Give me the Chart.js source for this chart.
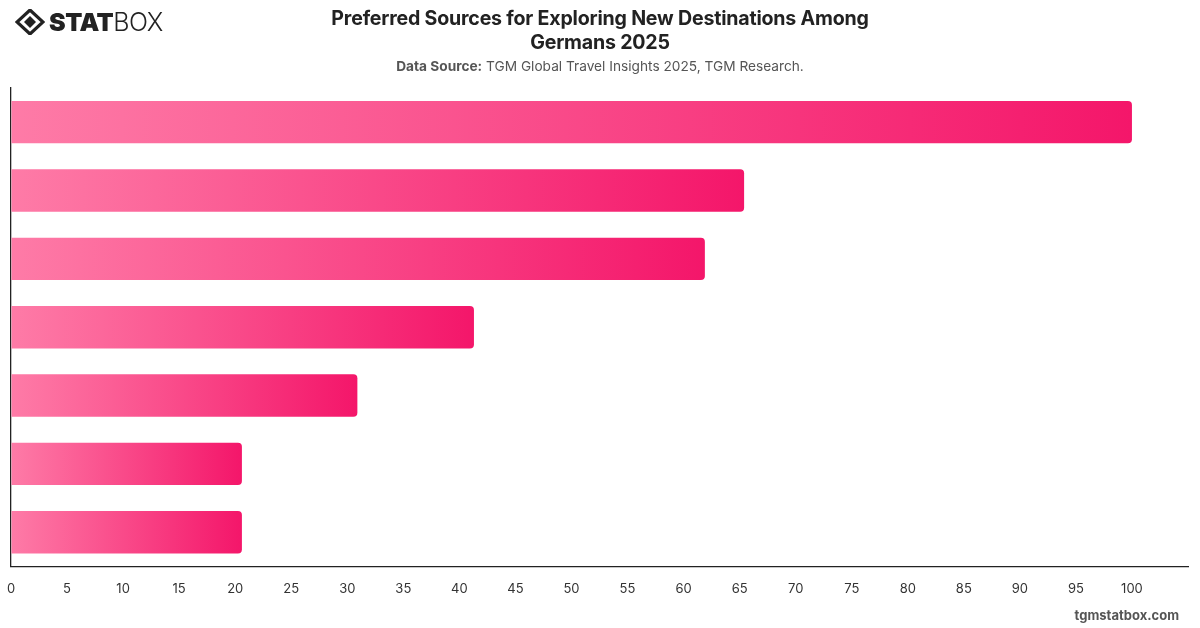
<!DOCTYPE html>
<html>
<head>
<meta charset="utf-8">
<script src="https://cdn.jsdelivr.net/npm/chart.js@4.4.1/dist/chart.umd.min.js"></script>
<style>
  html, body { margin: 0; padding: 0; background: #fff; }
  body { width: 1200px; height: 628px; position: relative; overflow: hidden; font-family: Inter, "Noto Sans", sans-serif; }
  #wrap { position: absolute; left: 0; top: 0; width: 1200px; height: 628px; }
  .title { position: absolute; left: 280px; width: 640px; top: 6px; text-align: center; font-weight: 700; font-size: 19.6px; line-height: 24px; color: #222; letter-spacing: -0.2px; }
  .sub { position: absolute; left: 300px; width: 600px; top: 58px; text-align: center; font-size: 13.7px; color: #555; }
  .sub b { font-weight: 700; }
  .foot { position: absolute; right: 21px; top: 607px; font-size: 13px; font-weight: 700; color: #555; }
  .logo { position: absolute; left: 15px; top: 8px; height: 28px; display: flex; align-items: center; }
  .logo .t1 { font-weight: 900; font-size: 25px; color: #222; letter-spacing: -0.5px; margin-left: 4px; }
  .logo .t2 { font-weight: 300; font-size: 25px; color: #222; letter-spacing: -0.5px; }
</style>
</head>
<body>
<div id="wrap"><canvas id="c" width="1200" height="628"></canvas></div>
<div class="logo">
  <svg width="30" height="26" viewBox="0 0 30 26">
    <polygon points="15,1 28,13 15,25 2,13" fill="none" stroke="#222" stroke-width="3.2"/>
    <polygon points="15,7 21,13 15,19 9,13" fill="#222"/>
  </svg>
  <span class="t1">STAT</span><span class="t2">BOX</span>
</div>
<div class="title">Preferred Sources for Exploring New Destinations Among<br>Germans 2025</div>
<div class="sub"><b>Data Source:</b> TGM Global Travel Insights 2025, TGM Research.</div>
<div class="foot">tgmstatbox.com</div>
<script>
const categories = ["Internet search", "Social media", "Friends and family", "Travel websites", "Travel agencies", "TV and films", "Travel magazines"];
const values = [100, 65.4, 61.9, 41.3, 30.9, 20.6, 20.6];
const xTicks = [0, 5, 10, 15, 20, 25, 30, 35, 40, 45, 50, 55, 60, 65, 70, 75, 80, 85, 90, 95, 100];

function barGradient(context) {
  const chart = context.chart;
  const area = chart.chartArea;
  if (!area) return '#f5176a';
  const xs = chart.scales.x;
  const v = context.raw;
  const x0 = xs.getPixelForValue(0);
  const x1 = xs.getPixelForValue(v);
  const g = chart.ctx.createLinearGradient(x0, 0, x1, 0);
  g.addColorStop(0, '#fe7ba7');
  g.addColorStop(1, '#f4166a');
  return g;
}

new Chart(document.getElementById('c'), {
  type: 'bar',
  data: {
    labels: categories,
    datasets: [{
      data: values,
      backgroundColor: barGradient,
      borderRadius: 4,
      borderSkipped: 'start',
      categoryPercentage: 0.62,
      barPercentage: 1
    }]
  },
  options: {
    indexAxis: 'y',
    responsive: false,
    animation: false,
    layout: { padding: { top: 88, left: 11, right: 12, bottom: 28 } },
    plugins: { legend: { display: false }, tooltip: { enabled: false }, title: { display: false } },
    scales: {
      x: {
        min: 0, max: 105,
        grid: { display: true, drawOnChartArea: false, drawTicks: true, tickLength: 12, color: 'rgba(0,0,0,0)' },
        border: { display: true, color: '#222', width: 1.3 },
        afterBuildTicks: (axis) => { axis.ticks = xTicks.map(v => ({ value: v })); },
        ticks: { color: '#333', font: { family: 'Inter', size: 13 }, padding: 3 }
      },
      y: {
        grid: { display: false, drawTicks: false },
        border: { display: true, color: '#222', width: 1.3 },
        ticks: { display: false }
      }
    }
  }
});
</script>
</body>
</html>
